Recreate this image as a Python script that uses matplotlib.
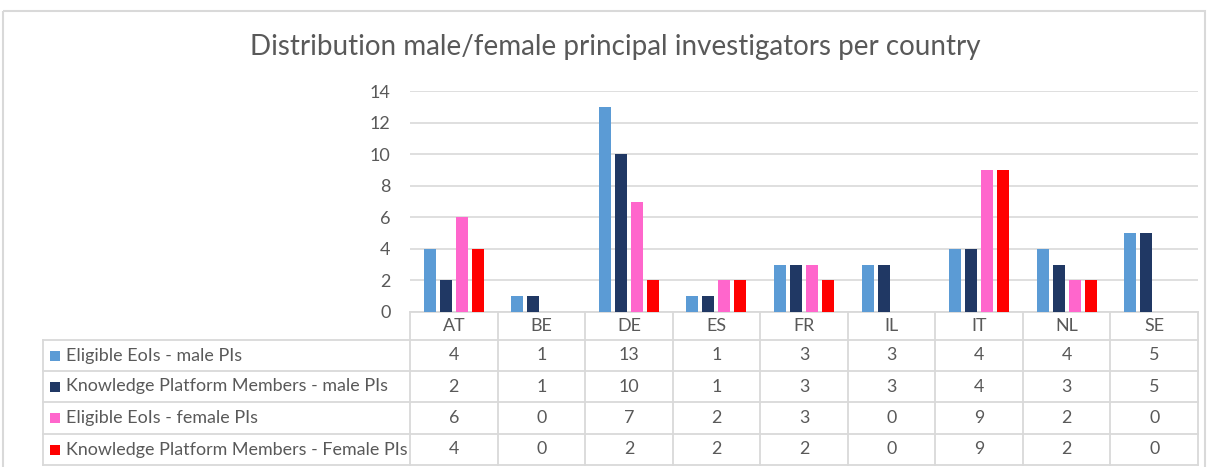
import matplotlib.pyplot as plt
from matplotlib.patches import Rectangle

countries = ['AT', 'BE', 'DE', 'ES', 'FR', 'IL', 'IT', 'NL', 'SE']
series_names = ['Eligible EoIs - male PIs',
                'Knowledge Platform Members - male PIs',
                'Eligible EoIs - female PIs',
                'Knowledge Platform Members - Female PIs']
eoi_male = [4, 1, 13, 1, 3, 3, 4, 4, 5]
kpm_male = [2, 1, 10, 1, 3, 3, 4, 3, 5]
eoi_female = [6, 0, 7, 2, 3, 0, 9, 2, 0]
kpm_female = [4, 0, 2, 2, 2, 0, 9, 2, 0]
colors = ['#5B9BD5', '#203864', '#FF66CC', '#FF0000']
yticks = [0, 2, 4, 6, 8, 10, 12, 14]
title = 'Distribution male/female principal investigators per country'

W, H = 1217, 467
plt.rcParams['font.family'] = ['Lato', 'DejaVu Sans']
fig = plt.figure(figsize=(W / 100, H / 100), dpi=100)

# pixel layout
px0, px1 = 410, 1198
py_top, py_base = 91, 312
row_y = [312, 340, 371, 402, 434, 465]
tab_left = 43
grid_c = '#D9D9D9'
txt_c = '#595959'
colw = (px1 - px0) / len(countries)

# overlay axes in pixel coordinates for frame and table
ov = fig.add_axes([0, 0, 1, 1])
ov.set_xlim(0, W)
ov.set_ylim(H, 0)
ov.axis('off')
ov.add_patch(Rectangle((3, 11), 1202, 470, fill=False, ec=grid_c, lw=1.5))
ov.text(615, 47, title, ha='center', va='center', fontsize=20, color=txt_c)

# bar chart
ax = fig.add_axes([px0 / W, 1 - py_base / H, (px1 - px0) / W, (py_base - py_top) / H])
series = [eoi_male, kpm_male, eoi_female, kpm_female]
x = list(range(len(countries)))
step, bw = 0.183, 0.137
for k, (vals, c) in enumerate(zip(series, colors)):
    off = (k - 1.5) * step
    ax.bar([i + off for i in x], vals, width=bw, color=c, zorder=3)
ax.set_xlim(-0.5, len(countries) - 0.5)
ax.set_ylim(0, 14)
ax.set_yticks(yticks)
ax.set_xticks([])
ax.grid(axis='y', color=grid_c, lw=1.2, zorder=0)
for s in ax.spines.values():
    s.set_visible(False)
ax.tick_params(axis='y', length=0, labelsize=13, labelcolor=txt_c, pad=14)
ax.set_facecolor('none')

# data table
lw = 1.3
for yy in row_y:
    x_start = px0 if yy == row_y[0] else tab_left
    ov.plot([x_start, px1], [yy, yy], color=grid_c, lw=lw)
for j in range(len(countries) + 1):
    xx = px0 + j * colw
    ov.plot([xx, xx], [row_y[0], row_y[-1]], color=grid_c, lw=lw)
ov.plot([tab_left, tab_left], [row_y[1], row_y[-1]], color=grid_c, lw=lw)

fs = 12.9
for j, name in enumerate(countries):
    cx = px0 + (j + 0.5) * colw
    ov.text(cx, (row_y[0] + row_y[1]) / 2, name, ha='center', va='center',
            fontsize=fs, color=txt_c)
for r, (name, vals, c) in enumerate(zip(series_names, series, colors)):
    cy = (row_y[r + 1] + row_y[r + 2]) / 2
    ov.add_patch(Rectangle((50, cy - 5), 10, 10, color=c, lw=0))
    ov.text(66, cy, name, ha='left', va='center', fontsize=fs, color=txt_c)
    for j, v in enumerate(vals):
        ov.text(px0 + (j + 0.5) * colw, cy, str(v), ha='center', va='center',
                fontsize=fs, color=txt_c)

fig.savefig('out.png', dpi=100, facecolor='white')
